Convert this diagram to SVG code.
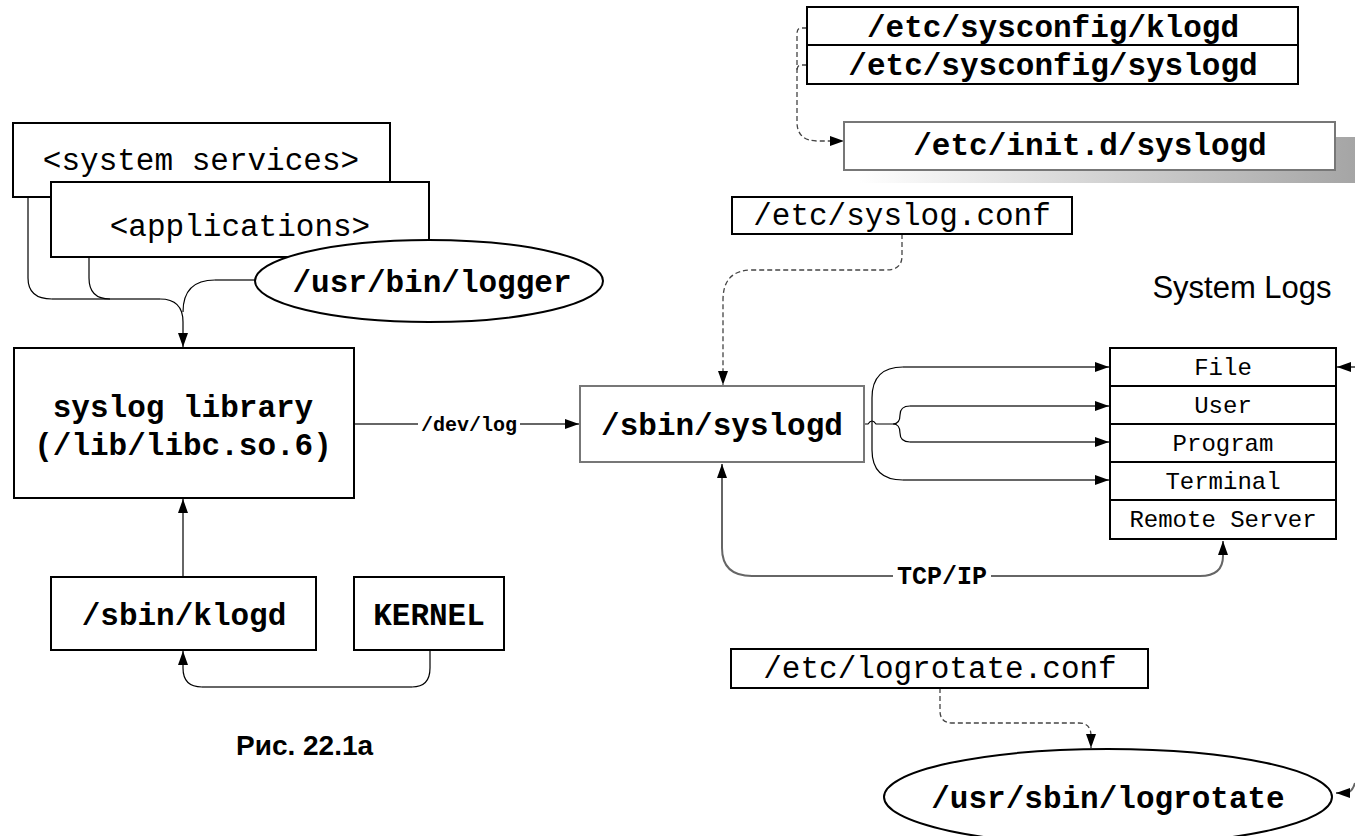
<svg xmlns="http://www.w3.org/2000/svg" width="1355" height="836" viewBox="0 0 1355 836">
<style>
.box{fill:#fff;stroke:#000;stroke-width:2}
.gbox{fill:#fff;stroke:#777;stroke-width:2}
.mono{font-family:"Liberation Mono","DejaVu Sans Mono",monospace;fill:#000}
.b{font-weight:bold}
.t31{font-size:31px}
.t24{font-size:24px}
.sans{font-family:"Liberation Sans",Arial,sans-serif;fill:#000}
.ln{fill:none;stroke:#666;stroke-width:2}
.cv{fill:none;stroke:#000;stroke-width:1.2}
.dash{fill:none;stroke:#444;stroke-width:1.3;stroke-dasharray:5,3}
</style>
<defs>
<marker id="arr" viewBox="0 0 14 10" refX="14" refY="5" markerWidth="14" markerHeight="10" markerUnits="userSpaceOnUse" orient="auto">
<path d="M0,0 L14,5 L0,10 z" fill="#000"/>
</marker>
<linearGradient id="shd" x1="0" y1="0" x2="1" y2="0">
<stop offset="0" stop-color="#fff"/>
<stop offset="1" stop-color="#a5a5a5"/>
</linearGradient>
</defs>

<g id="connectors">
<!-- sysconfig -> init.d -->
<path class="dash" d="M807,28 H801 Q797,28 797,34 V122 Q797,141 818,141 H844" marker-end="url(#arr)"/>
<path class="dash" d="M807,65 H801 Q797,65 797,71"/>
<!-- system services / applications / logger -> library -->
<path class="ln" d="M28,197 V278"/>
<path class="cv" d="M28,278 Q28,299 52,299"/>
<path class="ln" d="M52,299 H160"/>
<path class="ln" d="M89,257 V278"/>
<path class="cv" d="M89,278 Q89,299 110,299"/>
<path class="cv" d="M160,299 Q183,299 183,322 V347" marker-end="url(#arr)"/>
<path class="ln" d="M256,280 H215"/>
<path class="cv" d="M215,280 Q183,280 183,312"/>
<!-- library -> syslogd -->
<path class="ln" d="M354,424 H579" marker-end="url(#arr)"/>
<!-- klogd -> library -->
<path class="ln" d="M183,576 V499" marker-end="url(#arr)"/>
<!-- KERNEL -> klogd -->
<path class="ln" d="M430,650 V668"/>
<path class="cv" d="M430,668 Q430,687 412,687"/>
<path class="ln" d="M412,687 H202"/>
<path class="cv" d="M202,687 Q183,687 183,668 V651" marker-end="url(#arr)"/>
<!-- syslog.conf -> syslogd -->
<path class="dash" d="M902,234 V256 Q902,270 886,270 H752 Q723,270 723,300 V385" marker-end="url(#arr)"/>
<!-- syslogd -> logs -->
<path class="cv" d="M864,424 H868 Q872,418 876,424 H893"/>
<path class="cv" d="M903,367 Q872,367 872,398 V450 Q872,480 903,480"/>
<path class="ln" d="M903,367 H1109" marker-end="url(#arr)"/>
<path class="ln" d="M903,480 H1109" marker-end="url(#arr)"/>
<path class="cv" d="M893,424 Q900,424 900,415 Q900,406 910,406"/>
<path class="cv" d="M893,424 Q900,424 900,433 Q900,442 910,442"/>
<path class="ln" d="M910,406 H1109" marker-end="url(#arr)"/>
<path class="ln" d="M910,442 H1109" marker-end="url(#arr)"/>
<!-- external -> File -->
<path class="ln" d="M1355,367 H1337" marker-end="url(#arr)"/>
<!-- TCP/IP -->
<path class="ln" d="M722,548 V464" marker-end="url(#arr)"/>
<path class="ln" d="M722,548 Q722,576 752,576 H1200 Q1223,576 1223,556 V541" marker-end="url(#arr)"/>
<!-- logrotate.conf -> logrotate -->
<path class="dash" d="M940,688 V711 Q940,723 953,723 H1079 Q1091,723 1091,736 V748" marker-end="url(#arr)"/>
<!-- external -> logrotate -->
<path class="ln" d="M1355,783 Q1352,793 1345,793 H1336" marker-end="url(#arr)"/>
<!-- labels -->
<rect x="418" y="413" width="102" height="22" fill="#fff"/>
<text class="mono b" x="469" y="431" font-size="20" text-anchor="middle">/dev/log</text>
<rect x="893" y="563" width="98" height="26" fill="#fff"/>
<text class="mono b" x="942" y="584" font-size="25" text-anchor="middle">TCP/IP</text>
</g>

<g id="sysconfig">
<rect class="box" x="807" y="7" width="491" height="77"/>
<line x1="807" y1="45" x2="1298" y2="45" stroke="#000" stroke-width="2"/>
<text class="mono b t31" x="1053" y="37" text-anchor="middle">/etc/sysconfig/klogd</text>
<text class="mono b t31" x="1053" y="75" text-anchor="middle">/etc/sysconfig/syslogd</text>
</g>

<g id="initd">
<rect x="859" y="137" width="496" height="46" fill="url(#shd)"/>
<rect class="gbox" x="844" y="122" width="491" height="48"/>
<text class="mono b t31" x="1090" y="155" text-anchor="middle">/etc/init.d/syslogd</text>
</g>

<g id="system-services">
<rect class="box" x="13" y="123" width="377" height="74"/>
<text class="mono t31" x="201" y="170" text-anchor="middle">&lt;system services&gt;</text>
</g>

<g id="applications">
<rect class="box" x="51" y="182" width="378" height="75"/>
<text class="mono t31" x="240" y="236" text-anchor="middle">&lt;applications&gt;</text>
</g>

<g id="logger">
<ellipse cx="429" cy="281" rx="174" ry="41" fill="#fff" stroke="#000" stroke-width="2"/>
<text class="mono b t31" x="432" y="292" text-anchor="middle">/usr/bin/logger</text>
</g>

<g id="library">
<rect class="box" x="14" y="348" width="340" height="150"/>
<text class="mono b t31" x="183" y="417" text-anchor="middle">syslog library</text>
<text class="mono b t31" x="183" y="455" text-anchor="middle">(/lib/libc.so.6)</text>
</g>

<g id="klogd">
<rect class="box" x="51" y="577" width="265" height="73"/>
<text class="mono b t31" x="184" y="625" text-anchor="middle">/sbin/klogd</text>
</g>

<g id="kernel">
<rect class="box" x="354" y="577" width="150" height="73"/>
<text class="mono b t31" x="429" y="625" text-anchor="middle">KERNEL</text>
</g>

<g id="syslog-conf">
<rect class="box" x="732" y="197" width="340" height="37"/>
<text class="mono t31" x="902" y="225" text-anchor="middle">/etc/syslog.conf</text>
</g>

<g id="syslogd">
<rect class="gbox" x="580" y="386" width="284" height="76"/>
<text class="mono b t31" x="722" y="435" text-anchor="middle">/sbin/syslogd</text>
</g>

<g id="system-logs">
<text class="sans" x="1242" y="298" font-size="31" text-anchor="middle">System Logs</text>
<rect class="box" x="1110" y="348" width="226" height="191"/>
<line x1="1110" y1="386" x2="1336" y2="386" stroke="#000" stroke-width="2"/>
<line x1="1110" y1="424" x2="1336" y2="424" stroke="#000" stroke-width="2"/>
<line x1="1110" y1="462" x2="1336" y2="462" stroke="#000" stroke-width="2"/>
<line x1="1110" y1="500" x2="1336" y2="500" stroke="#000" stroke-width="2"/>
<text class="mono t24" x="1223" y="375" text-anchor="middle">File</text>
<text class="mono t24" x="1223" y="413" text-anchor="middle">User</text>
<text class="mono t24" x="1223" y="451" text-anchor="middle">Program</text>
<text class="mono t24" x="1223" y="489" text-anchor="middle">Terminal</text>
<text class="mono t24" x="1223" y="527" text-anchor="middle">Remote Server</text>
</g>

<g id="logrotate-conf">
<rect class="box" x="731" y="649" width="417" height="39"/>
<text class="mono t31" x="940" y="678" text-anchor="middle">/etc/logrotate.conf</text>
</g>

<g id="logrotate">
<ellipse cx="1108" cy="797" rx="224" ry="48" fill="#fff" stroke="#000" stroke-width="2"/>
<text class="mono b t31" x="1108" y="808" text-anchor="middle">/usr/sbin/logrotate</text>
</g>

<g id="caption">
<text class="sans b" x="236" y="755" font-size="28">Рис. 22.1а</text>
</g>
</svg>
